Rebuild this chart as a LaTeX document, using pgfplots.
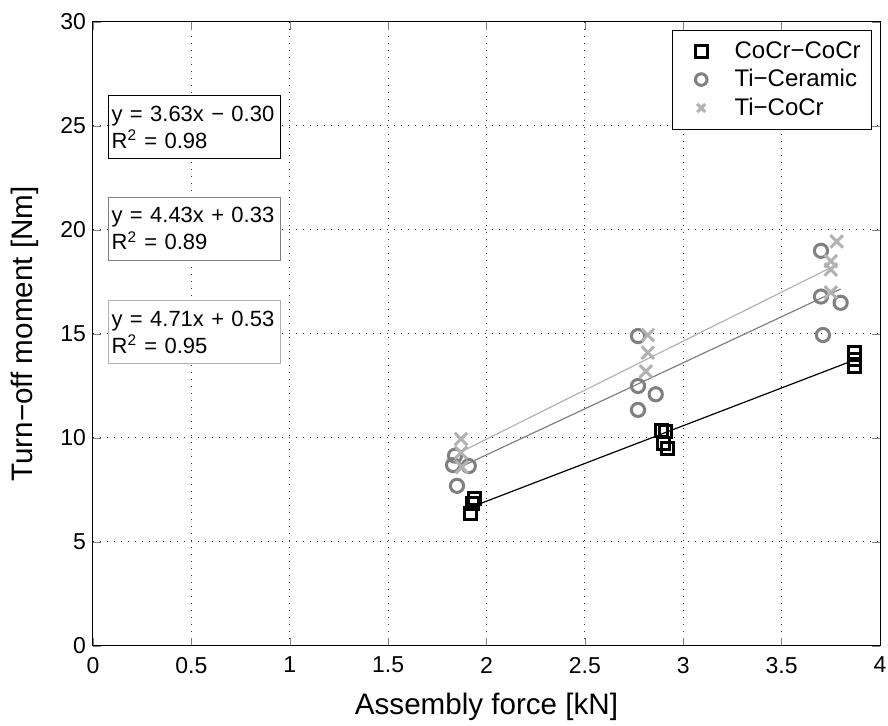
\documentclass[border=0pt]{standalone}
\usepackage{fontspec}
\setmainfont{Liberation Sans}
\usepackage{pgfplots}
\pgfplotsset{compat=1.18}
\definecolor{midgray}{gray}{0.5}
\definecolor{lightgray2}{gray}{0.7}
\begin{document}
\begin{tikzpicture}
\begin{axis}[
  scale only axis,
  width=393.5pt, height=312pt,
  xmin=0, xmax=4, ymin=0, ymax=30,
  xtick={0,0.5,...,4}, ytick={0,5,...,30},
  xticklabels={0,0.5,1,1.5,2,2.5,3,3.5,4},
  /pgf/number format/assume math mode=true,
  tick label style={font=\fontsize{11.5}{13}\selectfont},
  xticklabel style={yshift=-2pt},
  label style={font=\fontsize{14.8}{17}\selectfont},
  xlabel={Assembly force [kN]},
  ylabel={Turn−off moment [Nm]},
  xlabel style={yshift=-3pt},
  ylabel style={yshift=4pt},
  grid=major,
  grid style={dash pattern=on 0.6pt off 2.9pt, black!80, line width=0.5pt},
  tick align=inside,
  major tick length=4pt,
  axis line style={line width=0.5pt},
  legend style={at={(0.99,0.987)}, anchor=north east, draw=black, line width=0.5pt,
    font=\fontsize{12}{14}\selectfont, row sep=0pt, inner sep=3.5pt,
    legend cell align=left},
  legend image code/.code={\path (0,0) (0.85cm,0);
    \draw[#1, mark size=2.9pt, line width=1.5pt] plot coordinates {(0.36cm,0cm)};},
]
% CoCr-CoCr
\addplot[only marks, mark=square, mark size=3.0pt, line width=1.5pt, black] coordinates {
 (1.92,6.35) (1.94,7.1) (1.93,6.85)
 (2.89,10.35) (2.91,10.3) (2.90,9.75) (2.92,9.5)
 (3.87,14.1) (3.87,13.75) (3.87,13.45)
};
\addlegendentry{CoCr−CoCr}
% Ti-Ceramic
\addplot[only marks, mark=o, mark size=3.3pt, line width=1.5pt, midgray] coordinates {
 (1.84,9.15) (1.83,8.7) (1.91,8.65) (1.85,7.7)
 (2.77,14.9) (2.77,12.5) (2.86,12.1) (2.77,11.35)
 (3.70,19.0) (3.70,16.8) (3.80,16.5) (3.71,14.95)
};
\addlegendentry{Ti−Ceramic}
% Ti-CoCr
\addplot[only marks, mark=x, mark size=4.4pt, line width=1.5pt, lightgray2] coordinates {
 (1.87,9.95) (1.87,9.3) (1.875,8.6)
 (2.82,14.95) (2.82,14.1) (2.81,13.2)
 (3.78,19.45) (3.75,18.5) (3.75,18.1) (3.75,17.0)
};
\addlegendentry{Ti−CoCr}
% regression lines
\addplot[black, line width=0.6pt, forget plot] coordinates {(1.95,6.78) (3.87,13.75)};
\addplot[midgray, line width=0.6pt, forget plot] coordinates {(1.86,8.57) (3.80,17.16)};
\addplot[lightgray2, line width=0.6pt, forget plot] coordinates {(1.88,9.38) (3.76,18.24)};
% equation boxes
\tikzset{eqbox/.style={line width=0.7pt, anchor=north west, align=left, text width=83pt,
  minimum height=31.5pt, inner xsep=1.5pt, inner ysep=2pt, font=\fontsize{11}{13.5}\selectfont, fill=white}}
\node[eqbox, draw=black] at (axis cs:0.076,26.5)
  {\mbox{y = 3.63x − 0.30}\\\mbox{R\textsuperscript{2} = 0.98}};
\node[eqbox, draw=midgray] at (axis cs:0.076,21.6)
  {\mbox{y = 4.43x + 0.33}\\\mbox{R\textsuperscript{2} = 0.89}};
\node[eqbox, draw=lightgray2] at (axis cs:0.076,16.63)
  {\mbox{y = 4.71x + 0.53}\\\mbox{R\textsuperscript{2} = 0.95}};
\end{axis}
\pgfresetboundingbox
\path (current axis.south west) ++(-46.5pt,-40pt) coordinate (bl);
\path (current axis.north east) ++(4pt,11pt) coordinate (tr);
\path (bl) rectangle (tr);
\end{tikzpicture}
\end{document}
